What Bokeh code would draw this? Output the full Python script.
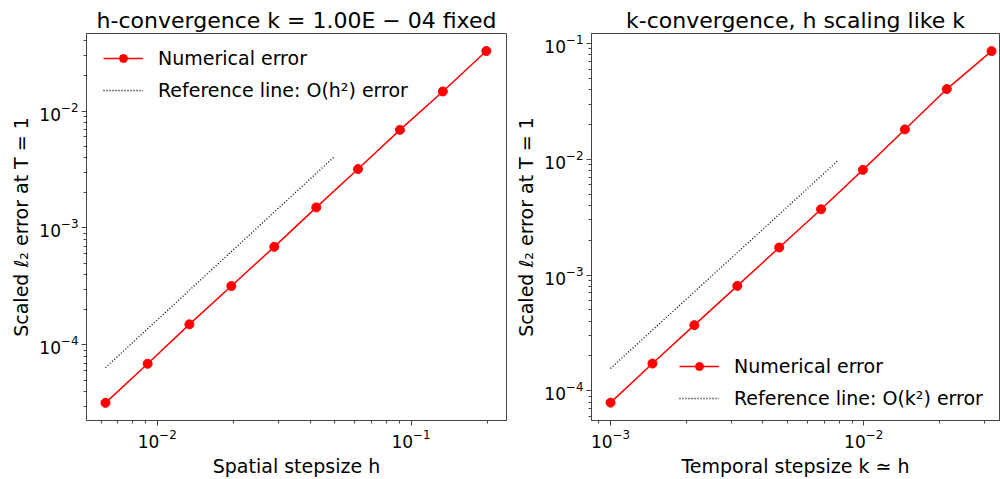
from bokeh.plotting import figure
from bokeh.models import Range1d, Legend, LegendItem, FixedTicker, LogTickFormatter
from bokeh.layouts import row
from bokeh.embed import file_html
from bokeh.resources import INLINE

# ---- data ----
h_vals = [0.00625, 0.00916, 0.01338, 0.01958, 0.0289, 0.0423, 0.0618, 0.0904, 0.1334, 0.198]
h_err = [3.2e-5, 6.9e-5, 1.5e-4, 3.19e-4, 6.9e-4, 1.5e-3, 3.19e-3, 6.9e-3, 1.47e-2, 3.26e-2]
h_ref_x = [0.00625, 0.05]
h_ref_y = [6.4e-5, 4.1e-3]

k_vals = [0.001, 0.001464, 0.002143, 0.003168, 0.004637, 0.006787, 0.00993, 0.01455, 0.0213, 0.032]
k_err = [7.9e-5, 1.72e-4, 3.69e-4, 8.06e-4, 1.73e-3, 3.7e-3, 8.1e-3, 1.81e-2, 4.04e-2, 8.6e-2]
k_ref_x = [0.001, 0.0079]
k_ref_y = [1.56e-4, 9.7e-3]

major_ticks = [1e-5, 1e-4, 1e-3, 1e-2, 1e-1, 1.0]
minor_mult = [2, 3, 4, 5, 6, 7, 8, 9]
minor_ticks = [m * t for t in major_ticks for m in minor_mult]

titles = ["h-convergence k = 1.00E \u2212 04 fixed", "k-convergence, h scaling like k"]
xlabels = ["Spatial stepsize h", "Temporal stepsize k \u2243 h"]
ylabel = "Scaled \u2113\u2082 error at T = 1"
legend_num = "Numerical error"
legend_ref = ["Reference line: O(h\u00b2) error", "Reference line: O(k\u00b2) error"]

FONT = "DejaVu Sans"
FRAME = "#444444"


def make_fig(title, xlabel, xr, yr, width, border_left, border_right):
    p = figure(width=width, height=479, x_axis_type="log", y_axis_type="log",
               x_range=Range1d(*xr), y_range=Range1d(*yr),
               output_backend="svg", toolbar_location=None,
               min_border_left=border_left, min_border_right=border_right,
               min_border_top=33, min_border_bottom=53)
    p.title.text = title
    p.title.align = "center"
    p.title.text_font = FONT
    p.title.text_font_size = "22px"
    p.title.text_font_style = "normal"
    p.title.text_color = "black"
    p.title.standoff = 2
    p.grid.visible = False
    p.outline_line_color = FRAME
    p.outline_line_width = 1
    p.background_fill_color = "white"
    p.border_fill_color = "white"
    for ax in (p.xaxis[0], p.yaxis[0]):
        ax.ticker = FixedTicker(ticks=major_ticks, minor_ticks=minor_ticks)
        ax.formatter = LogTickFormatter()
        ax.axis_line_color = FRAME
        ax.major_tick_line_color = FRAME
        ax.minor_tick_line_color = FRAME
        ax.major_tick_out = 5
        ax.major_tick_in = 0
        ax.minor_tick_out = 3
        ax.minor_tick_in = 0
        ax.major_label_text_font = FONT
        ax.major_label_text_font_size = "17px"
        ax.major_label_text_color = "black"
        ax.axis_label_text_font = FONT
        ax.axis_label_text_font_size = "19px"
        ax.axis_label_text_font_style = "normal"
        ax.axis_label_text_color = "black"
        ax.major_label_standoff = 3
        ax.axis_label_standoff = 4
    p.xaxis.axis_label = xlabel
    p.yaxis.axis_label = ylabel
    return p


p1 = make_fig(titles[0], xlabels[0], (0.00526, 0.2377), (2.26e-5, 0.046), 512, 86, 6)
p2 = make_fig(titles[1], xlabels[1], (8.41e-4, 0.0344), (5.54e-5, 0.122), 488, 78, 1)


def draw(p, xs, ys, rx, ry, ref_label, loc):
    r_line = p.line(xs, ys, line_color="#ff0000", line_width=1.5)
    r_pts = p.scatter(xs, ys, size=9, fill_color="#ff0000", line_color="#ff0000")
    r_ref = p.line(rx, ry, line_color="black", line_width=1.3, line_dash="1 2")
    leg = Legend(items=[LegendItem(label=legend_num, renderers=[r_line, r_pts]),
                        LegendItem(label=ref_label, renderers=[r_ref])],
                 location=loc)
    leg.border_line_alpha = 0
    leg.background_fill_alpha = 0
    leg.label_text_font = FONT
    leg.label_text_font_size = "19px"
    leg.label_text_color = "black"
    leg.glyph_width = 40
    leg.glyph_height = 20
    leg.label_standoff = 15
    leg.spacing = 10
    leg.padding = 5
    leg.margin = 0
    p.add_layout(leg)


draw(p1, h_vals, h_err, h_ref_x, h_ref_y, legend_ref[0], (12, 314))
draw(p2, k_vals, k_err, k_ref_x, k_ref_y, legend_ref[1], (83, 6))

layout = row(p1, p2)
open("out.html", "w").write(file_html(layout, INLINE))
